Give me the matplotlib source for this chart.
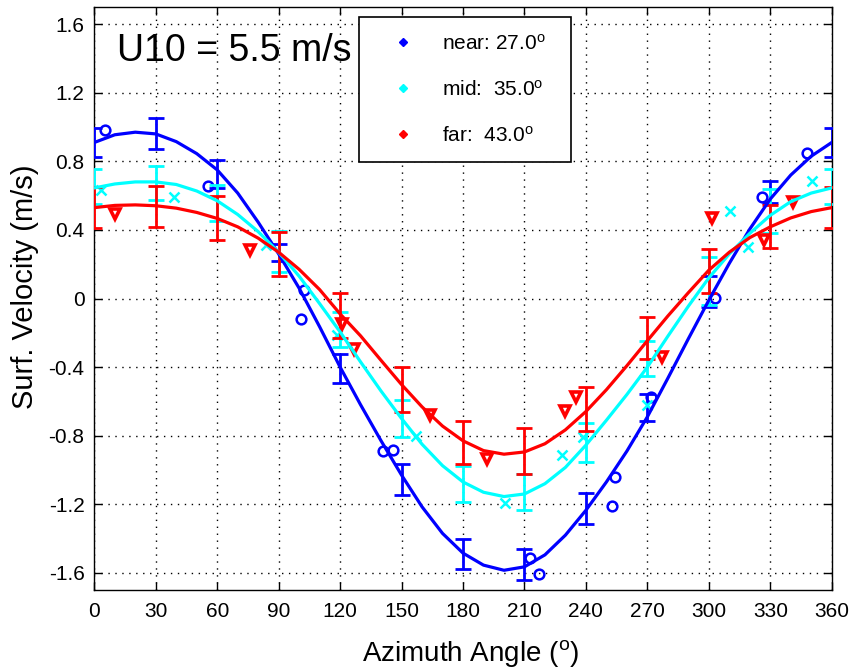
import matplotlib
matplotlib.use("Agg")
import matplotlib.pyplot as plt
from matplotlib.lines import Line2D

plt.rcParams['font.family'] = ['Liberation Sans', 'DejaVu Sans']
plt.rcParams['mathtext.fontset'] = 'custom'
plt.rcParams['mathtext.rm'] = 'Liberation Sans'
plt.rcParams['mathtext.it'] = 'Liberation Sans:italic'

# Fitted harmonic curves (m/s) sampled every 10 degrees of azimuth
fit_azimuth = list(range(0, 361, 10))
near_fit = [0.91, 0.955, 0.97, 0.96, 0.915, 0.845, 0.75, 0.615, 0.445, 0.26,
            0.06, -0.165, -0.40, -0.62, -0.83, -1.03, -1.215, -1.37, -1.485,
            -1.555, -1.585, -1.565, -1.495, -1.38, -1.235, -1.07, -0.89, -0.69,
            -0.465, -0.235, -0.01, 0.205, 0.405, 0.58, 0.72, 0.83, 0.91]
mid_fit = [0.645, 0.668, 0.68, 0.68, 0.665, 0.627, 0.57, 0.49, 0.39, 0.27,
           0.13, -0.03, -0.195, -0.37, -0.54, -0.70, -0.85, -0.975, -1.07,
           -1.13, -1.155, -1.14, -1.08, -0.985, -0.855, -0.71, -0.56, -0.40,
           -0.22, -0.045, 0.12, 0.26, 0.38, 0.485, 0.565, 0.615, 0.645]
far_fit = [0.53, 0.543, 0.546, 0.541, 0.527, 0.502, 0.467, 0.418, 0.352, 0.27,
           0.17, 0.052, -0.09, -0.218, -0.361, -0.502, -0.632, -0.744, -0.83,
           -0.887, -0.908, -0.895, -0.847, -0.766, -0.659, -0.532, -0.392,
           -0.246, -0.102, 0.034, 0.165, 0.27, 0.355, 0.418, 0.47, 0.507, 0.53]

# Bin-averaged velocities with their spread, every 30 degrees
bin_azimuth = list(range(0, 361, 30))
near_mean = [0.91, 0.96, 0.726, 0.27, -0.41, -1.055, -1.49, -1.55, -1.225,
             -0.635, 0.04, 0.62, 0.91]
near_err = [0.085, 0.09, 0.08, 0.05, 0.085, 0.09, 0.088, 0.09, 0.088, 0.08,
            0.09, 0.065, 0.085]
mid_mean = [0.653, 0.675, 0.555, 0.275, -0.18, -0.70, -1.08, -1.13, -0.84,
            -0.35, 0.10, 0.51, 0.653]
mid_err = [0.104, 0.10, 0.105, 0.12, 0.10, 0.107, 0.105, 0.105, 0.113, 0.10,
           0.14, 0.13, 0.104]
far_mean = [0.53, 0.535, 0.47, 0.26, -0.10, -0.53, -0.84, -0.89, -0.645,
            -0.23, 0.16, 0.42, 0.53]
far_err = [0.12, 0.12, 0.13, 0.127, 0.13, 0.13, 0.125, 0.133, 0.13, 0.122,
           0.13, 0.125, 0.12]

# Individual measurements
near_az = [5.4, 55.7, 100.8, 102.4, 140.7, 145.6, 212.5, 216.9, 252.8, 254.2,
           272.0, 303.0, 325.8, 347.8]
near_vel = [0.98, 0.655, -0.12, 0.05, -0.89, -0.885, -1.515, -1.605, -1.21,
            -1.04, -0.575, 0.005, 0.59, 0.85]
mid_az = [3.3, 38.8, 83.6, 118.4, 157.0, 200.3, 228.4, 238.4, 269.6, 310.3,
          319.3, 350.6]
mid_vel = [0.63, 0.59, 0.31, -0.21, -0.80, -1.19, -0.91, -0.81, -0.62, 0.51,
           0.30, 0.683]
far_az = [10.3, 76.2, 120.8, 126.8, 164.0, 191.5, 229.8, 235.3, 276.9, 301.4,
          326.7, 341.3]
far_vel = [0.49, 0.285, -0.15, -0.294, -0.677, -0.935, -0.657, -0.576, -0.343,
           0.47, 0.343, 0.562]

legend_labels = ['near: 27.0$^{\\rm o}$', 'mid:  35.0$^{\\rm o}$',
                 'far:  43.0$^{\\rm o}$']
x_ticks = list(range(0, 361, 30))
y_ticks = [1.6, 1.2, 0.8, 0.4, 0.0, -0.4, -0.8, -1.2, -1.6]
y_tick_labels = ['1.6', '1.2', '0.8', '0.4', '0', '-0.4', '-0.8', '-1.2', '-1.6']

fig = plt.figure(figsize=(8.52, 6.69), dpi=100)
ax = fig.add_axes([0.1107, 0.1181, 0.8655, 0.8714])

series = [
    ('#0000ff', near_fit, near_mean, near_err, near_az, near_vel, 'o', 1.8),
    ('#00ffff', mid_fit, mid_mean, mid_err, mid_az, mid_vel, 'x', 1.8),
    ('#ff0000', far_fit, far_mean, far_err, far_az, far_vel, 'v', 2.6),
]
for color, fit, mean, err, az, vel, mk, mew in series:
    ax.errorbar(bin_azimuth, mean, yerr=err, fmt='none', ecolor=color,
                elinewidth=2.0, capsize=6.0, capthick=2.0, zorder=3)
    ax.plot(az, vel, linestyle='none', marker=mk, markersize=7,
            markerfacecolor='none', markeredgecolor=color,
            markeredgewidth=mew, zorder=3)
    ax.plot(fit_azimuth, fit, color=color, linewidth=2.3, zorder=4)

ax.set_xlim(0, 360)
ax.set_ylim(-1.7, 1.7)
ax.set_xticks(x_ticks)
ax.set_yticks(y_ticks)
ax.set_yticklabels(y_tick_labels)
ax.grid(True, color='black', linestyle=(0, (1, 4)), linewidth=1.0)
ax.tick_params(direction='in', length=6, width=1, top=True, right=True,
               labelsize=15)
ax.tick_params(axis='x', pad=9)
ax.tick_params(axis='y', pad=7)
for sp in ax.spines.values():
    sp.set_linewidth(1.0)

ax.set_xlabel('Azimuth Angle ($^{\\rm o}$)', fontsize=20)
ax.xaxis.set_label_coords(0.51, -0.083)
ax.set_ylabel('Surf. Velocity (m/s)', fontsize=21, va='center')
ax.yaxis.set_label_coords(-0.094, 0.52)

ax.text(0.0304, 0.907, 'U10 = 5.5 m/s', transform=ax.transAxes,
        fontsize=27, va='baseline', ha='left')

handles = [Line2D([], [], linestyle='none', marker='D', markersize=4,
                  color=c) for c in ('#0000ff', '#00ffff', '#ff0000')]
leg = ax.legend(handles, legend_labels, loc='upper left',
                bbox_to_anchor=(0.359, 0.734, 0.287, 0.249), mode='expand',
                fontsize=15, frameon=True, fancybox=False, framealpha=1,
                edgecolor='black', borderpad=0.8, handlelength=2.6,
                handletextpad=0.6, labelspacing=1.25, borderaxespad=0)
leg.get_frame().set_linewidth(1.2)
leg.set_zorder(10)

fig.savefig('out.png', dpi=100)
